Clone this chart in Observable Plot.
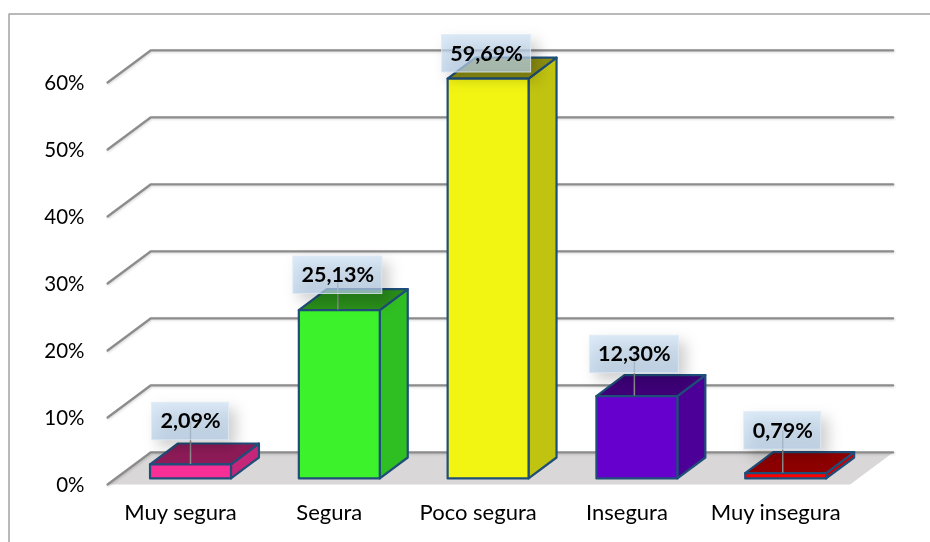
<!DOCTYPE html>
<html><head><meta charset="utf-8">
<script src="https://cdn.jsdelivr.net/npm/d3@7"></script>
<script src="https://cdn.jsdelivr.net/npm/@observablehq/plot@0.6"></script>
<style>
html,body{margin:0;padding:0;background:#fff}
svg{display:block}
.lbox rect{filter:drop-shadow(7px 7px 7px rgba(0,0,0,.26))}
.gridl path{filter:drop-shadow(1px 1px 1px rgba(0,0,0,.15))}
</style></head><body><div id="c"></div>
<script>
const categories = ["Muy segura","Segura","Poco segura","Insegura","Muy insegura"];
const values = [2.09,25.13,59.69,12.30,0.79];
const yTicks = [0,10,20,30,40,50,60];
const fronts = ["#f72f97","#3cf22a","#f2f512","#6600cc","#ff0000"];
const sides  = ["#c5267a","#30bf22","#c0c310","#4c0098","#cc0000"];
const tops   = ["#8e1b58","#2a8f1a","#8f9010","#3e0078","#8f0000"];
const labelLift = [6.4,5.2,3.7,6.2,6.3];
const labelShift = [0,-0.01,-0.01,-0.017,-0.02];
const hasLeader = [true,true,false,true,true];

const W=930,H=542;
const px=148.8, py=6.7;
const xDom=[-190/px,(W-190)/px], yDom=[(484-H)/py,484/py];
const gridL=-0.557, gridR=4.433, gdx=0.289, gdy=4.78;
const bw=0.272, bdx=0.188, bdy=3.13, base=0.9;

const polys=[];
const poly=(id,fill,pts)=>pts.forEach(([x,y])=>polys.push({id,fill,x,y}));
values.forEach((v,i)=>{
  const l=i-bw,r=i+bw,b=base,t=base+v;
  poly("s"+i,sides[i],[[r,b],[r+bdx,b+bdy],[r+bdx,t+bdy],[r,t]]);
  poly("t"+i,tops[i],[[l,t],[r,t],[r+bdx,t+bdy],[l+bdx,t+bdy]]);
  poly("f"+i,fronts[i],[[l,b],[r,b],[r,t],[l,t]]);
});
const gridPts=yTicks.flatMap(t=>[{t,x:gridL,y:t},{t,x:gridL+gdx,y:t+gdy},{t,x:gridR+gdx,y:t+gdy}]);
const floor=[[gridL,0],[gridL+gdx,gdy],[gridR+gdx,gdy],[gridR,0]].map(([x,y])=>({x,y}));
const rows=values.map((v,i)=>{
  const label=v.toFixed(2).replace(".",",")+"%";
  const half=(label.length>5?44.5:38.5)/px;
  return {i,v,label,half,cx:i+labelShift[i],cy:base+v+labelLift[i]};
});
const border=[[xDom[0]+8.5/px,yDom[0]],[xDom[0]+8.5/px,yDom[1]-13.5/py],[xDom[1],yDom[1]-13.5/py]].map(([x,y])=>({x,y}));
const withClass=c=>(i,s,v,d,ctx,next)=>{const g=next(i,s,v,d,ctx);g.setAttribute("class",c);return g;};
const chart=Plot.plot({
  width:W,height:H,marginLeft:92,marginRight:0,marginTop:0,marginBottom:49,
  style:{background:"#fff",fontFamily:"Lato, Carlito, sans-serif",filter:"blur(0.35px)"},
  x:{domain:xDom,range:[0,W]},
  y:{domain:yDom,range:[H,0]},
  color:{type:"identity"},
  marks:[
    ()=>{const d=d3.create("svg:defs");const g=d.append("linearGradient").attr("id","lb").attr("x1",0).attr("x2",0).attr("y1",0).attr("y2",1);
      g.append("stop").attr("offset",0).attr("stop-color","#cfe2f5");g.append("stop").attr("offset",1).attr("stop-color","#b4cde6");return d.node();},
    Plot.line(border,{x:"x",y:"y",stroke:"#a3a3a3",strokeWidth:1.5}),
    Plot.line(floor,{x:"x",y:"y",curve:"linear-closed",fill:"#d9d7d7",stroke:"none"}),
    Plot.line(gridPts,{x:"x",y:"y",z:"t",stroke:"#8c8c8c",strokeWidth:2.3,render:withClass("gridl")}),
    Plot.line(polys,{x:"x",y:"y",z:"id",fill:"fill",stroke:"#1f4e79",strokeWidth:2.2,curve:"linear-closed",strokeLinejoin:"round"}),
    Plot.ruleX(rows.filter(d=>hasLeader[d.i]),{x:"cx",y1:d=>base+d.v,y2:"cy",stroke:"#8c8c8c",strokeWidth:1.5}),
    Plot.rect(rows,{x1:d=>d.cx-d.half,x2:d=>d.cx+d.half,y1:d=>d.cy-2.8,y2:d=>d.cy+2.8,fill:"url(#lb)",fillOpacity:.72,stroke:"#dfeaf5",strokeOpacity:.8,strokeWidth:1,render:withClass("lbox")}),
    Plot.text(rows,{x:"cx",y:"cy",text:"label",fontSize:21.5,fontWeight:700,fill:"#000"}),
    Plot.axisY({ticks:yTicks,tickFormat:d=>d+"%",tickSize:0,tickPadding:8,fontSize:20.5,label:null,fill:"#000",dy:1}),
    Plot.axisX({ticks:[0,1,2,3,4],tickFormat:i=>categories[i],tickSize:0,tickPadding:11,fontSize:22,label:null,fill:"#000",dx:-10})
  ]
});
document.getElementById("c").appendChild(chart);
</script></body></html>
